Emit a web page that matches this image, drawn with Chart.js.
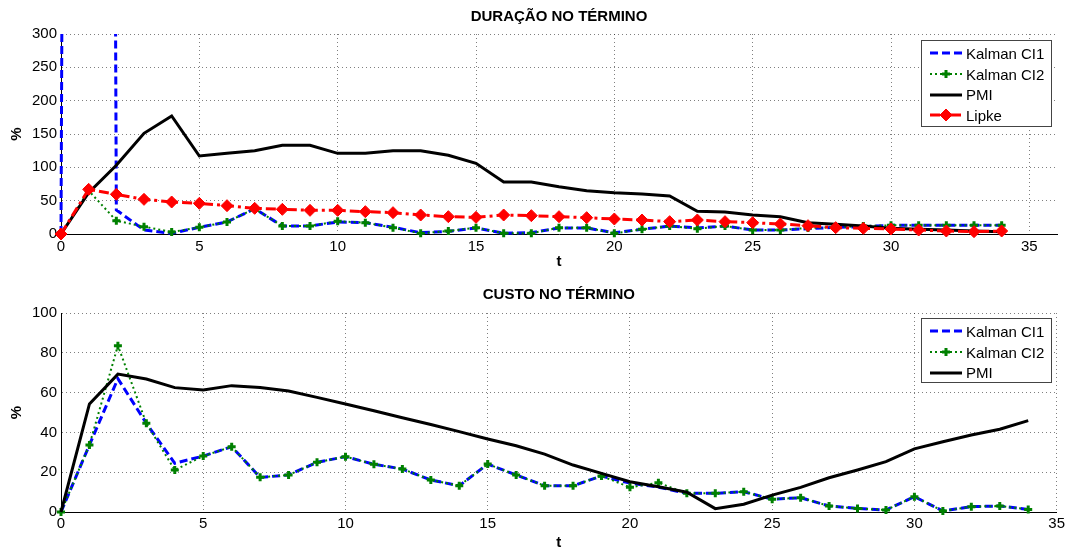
<!DOCTYPE html>
<html>
<head>
<meta charset="utf-8">
<script src="https://cdn.jsdelivr.net/npm/chart.js@4.4.0/dist/chart.umd.min.js"></script>
<style>
    body { margin: 0; background: #fff; width: 1068px; height: 551px; position: relative; overflow: hidden; font-family: 'Liberation Sans', Arial, sans-serif; }
    canvas.panel { position: absolute; left: 0; }
    .legend { position: absolute; background: #fff; border: 1px solid #444; box-sizing: border-box; padding-top: 2px; }
    .legend .row { display: flex; align-items: center; height: 20.7px; font-size: 15px; color: #000; white-space: nowrap; }
    .legend canvas { margin-left: 8px; margin-right: 4px; }
</style>
</head>
<body>
<canvas class="panel" id="durChart" width="1068" height="270" style="top:0"></canvas>
<canvas class="panel" id="costChart" width="1068" height="271" style="top:280px"></canvas>
<div class="legend" id="durLegend" style="left:921px;top:40px;width:131px;height:87px"></div>
<div class="legend" id="costLegend" style="left:921px;top:318px;width:131px;height:65px"></div>
<script>
// time steps
const tValues = [0, 1, 2, 3, 4, 5, 6, 7, 8, 9, 10, 11, 12, 13, 14, 15, 16, 17, 18, 19, 20,
    21, 22, 23, 24, 25, 26, 27, 28, 29, 30, 31, 32, 33, 34];

// DURAÇÃO NO TÉRMINO (value at t=1 of Kalman CI1 is off the scale)
const durKalman1 = [0, 10000, 36, 6, 1, 10, 18, 38, 12, 12, 18, 17, 10, 2, 4, 9, 1, 2, 9, 9, 2,
    7, 12, 9, 12, 6, 6, 8, 10, 11, 13, 13, 13, 13, 13];
const durKalman2 = [0, 65, 20, 11, 3, 10, 18, 38, 12, 12, 19, 17, 9.5, 1, 4.5, 9.5, 1, 1, 9.5, 9.5, 1,
    7, 12, 8, 12, 6, 6, 9, 10, 12, 13, 13, 13, 13, 13];
const durPmi = [0, 62, 103, 151, 177, 117, 121, 125, 133, 133, 121, 121, 125, 125, 118, 106, 78, 78, 71, 65, 62,
    60, 57, 34, 33, 28.5, 26, 17, 14.5, 12, 8.5, 7, 6, 4.5, 3.5];
const durLipke = [0, 67, 59.5, 52, 48, 46, 42.5, 38.5, 37, 35.5, 35.5, 33.5, 32, 28.5, 26, 25, 28.5, 27.5, 26, 24.5, 22.5,
    21, 18.5, 21, 18.5, 17, 15, 12.5, 9.5, 8.5, 7.5, 6, 4.5, 3.5, 4.5];

// CUSTO NO TÉRMINO
const costKalman1 = [0, 33.7, 67, 44.6, 24.5, 28.1, 32.8, 17.4, 18.6, 25, 27.8, 24, 21.6, 16.1, 13.2, 24.1, 18.6, 13.2, 13.2, 18.1, 14.5,
    12.5, 9.4, 9.4, 10.2, 6.4, 7.2, 3, 1.8, 1, 7.7, 0.5, 2.7, 3, 1.3];
const costKalman2 = [0, 33.7, 83.6, 44.6, 21.1, 28.1, 32.8, 17.4, 18.6, 25, 27.8, 24, 21.6, 16.1, 13.2, 24.1, 18.6, 13.2, 13.2, 18.1, 12.4,
    14.7, 9.4, 9.4, 10.2, 6.4, 7.2, 3, 1.8, 1, 7.7, 0.5, 2.7, 3, 1.3];
const costPmi = [0, 54.3, 69.3, 66.8, 62.5, 61.3, 63.5, 62.6, 60.8, 57.6, 54.3, 50.9, 47.4, 44, 40.4, 36.7, 33.3, 29.1, 23.6, 19.4, 15.2,
    12.7, 9.9, 1.7, 3.9, 8.5, 12.4, 17.2, 21.1, 25.3, 31.7, 35.3, 38.7, 41.6, 45.9];

const xTicks = [0, 5, 10, 15, 20, 25, 30, 35];
const durYTicks = [0, 50, 100, 150, 200, 250, 300];
const costYTicks = [0, 20, 40, 60, 80, 100];

const FONT = "'Liberation Sans', Arial, sans-serif";
Chart.defaults.font.family = FONT;
Chart.defaults.color = '#000';

const seriesStyle = {
    'Kalman CI1': { borderColor: '#0000ff', borderWidth: 3, borderDash: [8, 4], pointRadius: 0, order: 3 },
    'Kalman CI2': { borderColor: '#008000', borderWidth: 2, borderDash: [2, 3], pointStyle: 'cross', pointRadius: 4,
        pointBorderWidth: 3, pointBorderColor: '#008000', pointBackgroundColor: '#008000', order: 2 },
    'PMI': { borderColor: '#000000', borderWidth: 3, pointRadius: 0, order: 1 },
    'Lipke': { borderColor: '#ff0000', borderWidth: 3, borderDash: [10, 4, 3, 4], pointStyle: 'rectRot', pointRadius: 6,
        pointBorderWidth: 1, pointBorderColor: '#ff0000', pointBackgroundColor: '#ff0000', order: 0 },
};

function makeDataset(name, values) {
    return {
        label: name,
        data: values.map((v, i) => ({ x: tValues[i], y: v })),
        fill: false,
        tension: 0,
        clip: { left: 8, right: 8, bottom: 8, top: 0 },
        ...seriesStyle[name],
    };
}

function gridOpts() {
    return { color: 'rgba(0,0,0,0.5)', lineWidth: 1, drawTicks: false };
}

function borderOpts() {
    return { display: true, color: '#000', width: 1, dash: [1, 3] };
}

function makeChart(canvasId, title, datasets, opt) {
    const ctx = document.getElementById(canvasId).getContext('2d');
    return new Chart(ctx, {
        type: 'line',
        data: { datasets },
        options: {
            responsive: false,
            animation: false,
            events: [],
            layout: { padding: { left: 0, right: opt.padRight, top: 0, bottom: 0 } },
            plugins: {
                legend: { display: false },
                tooltip: { enabled: false },
                title: {
                    display: true,
                    text: title,
                    fullSize: false,
                    color: '#000',
                    font: { size: 15, weight: 'bold' },
                    padding: opt.titlePad,
                },
            },
            scales: {
                x: {
                    type: 'linear',
                    min: 0,
                    max: opt.xMax,
                    afterBuildTicks: s => { s.ticks = xTicks.map(v => ({ value: v })); },
                    afterFit: s => { s.height = opt.xAxisHeight; },
                    ticks: { color: '#000', font: { size: 15 }, padding: opt.xTickPad, maxRotation: 0, autoSkip: false },
                    grid: gridOpts(),
                    border: borderOpts(),
                    title: { display: true, text: 't', color: '#000', font: { size: 15, weight: 'bold', lineHeight: 1 }, padding: { top: 0, bottom: 0.5 } },
                },
                y: {
                    min: 0,
                    max: opt.yMax,
                    afterBuildTicks: s => { s.ticks = opt.yTicks.map(v => ({ value: v })); },
                    afterFit: s => { s.width = 61; },
                    ticks: { color: '#000', font: { size: 15 }, padding: 4 },
                    grid: gridOpts(),
                    border: borderOpts(),
                    title: { display: true, text: '%', color: '#000', font: { size: 15, weight: 'bold' }, padding: { top: 8, bottom: 0 } },
                },
            },
        },
    });
}

function buildLegend(boxId, datasets) {
    const box = document.getElementById(boxId);
    datasets.forEach(ds => {
        const row = document.createElement('div');
        row.className = 'row';
        const c = document.createElement('canvas');
        c.width = 32;
        c.height = 14;
        const g = c.getContext('2d');
        g.strokeStyle = ds.borderColor;
        g.lineWidth = ds.borderWidth;
        g.setLineDash(ds.borderDash || []);
        g.beginPath();
        g.moveTo(0, 7);
        g.lineTo(32, 7);
        g.stroke();
        g.setLineDash([]);
        if (ds.pointRadius && Chart.helpers && Chart.helpers.drawPoint) {
            g.fillStyle = ds.pointBackgroundColor;
            g.strokeStyle = ds.pointBorderColor;
            g.lineWidth = ds.pointBorderWidth;
            Chart.helpers.drawPoint(g, { pointStyle: ds.pointStyle, radius: ds.pointRadius, borderWidth: ds.pointBorderWidth, rotation: 0 }, 16, 7);
        }
        const label = document.createElement('span');
        label.textContent = ds.label;
        row.appendChild(c);
        row.appendChild(label);
        box.appendChild(row);
    });
}

const durDatasets = [
    makeDataset('Kalman CI1', durKalman1),
    makeDataset('Kalman CI2', durKalman2),
    makeDataset('PMI', durPmi),
    makeDataset('Lipke', durLipke),
];
const costDatasets = [
    makeDataset('Kalman CI1', costKalman1),
    makeDataset('Kalman CI2', costKalman2),
    makeDataset('PMI', costPmi),
];

makeChart('durChart', 'DURAÇÃO NO TÉRMINO', durDatasets, {
    xMax: 36, yMax: 300, yTicks: durYTicks, padRight: 11, xAxisHeight: 36, xTickPad: 4,
    titlePad: { top: 8, bottom: 8 },
});
makeChart('costChart', 'CUSTO NO TÉRMINO', costDatasets, {
    xMax: 35, yMax: 100, yTicks: costYTicks, padRight: 10, xAxisHeight: 39, xTickPad: 3,
    titlePad: { top: 6, bottom: 9 },
});

buildLegend('durLegend', durDatasets);
buildLegend('costLegend', costDatasets);
</script>
</body>
</html>
